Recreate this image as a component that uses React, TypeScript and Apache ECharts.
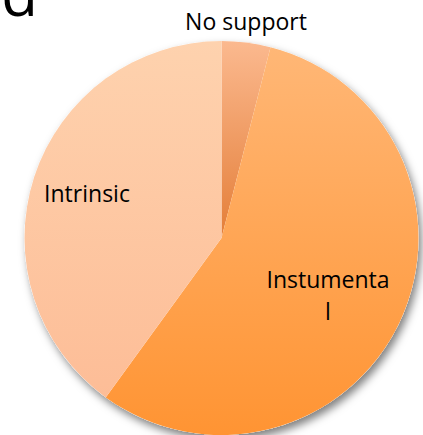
import React, { useEffect, useRef } from "react";
import * as echarts from "echarts";

const categories = ["No support", "Instumental", "Intrinsic"];
const values = [4, 56, 40];
const topColors = ["#FBB98F", "#FFB776", "#FED2AE"];
const bottomColors = ["#E47E38", "#FF9433", "#FDBD97"];
const labelPos = [
  { x: 246, y: 21 },
  { x: 328, y: 295 },
  { x: 87, y: 193 },
];

export default function App() {
  const ref = useRef<HTMLDivElement>(null);
  useEffect(() => {
    const chart = echarts.init(ref.current!, null, { renderer: "svg" });
    const font = '"Open Sans", sans-serif';
    chart.setOption({
      animation: false,
      backgroundColor: "#ffffff",
      graphic: [
        {
          type: "text",
          x: 38,
          y: -37,
          style: {
            text: "d",
            font: `60px ${font}`,
            fill: "#000000",
            align: "right",
          },
        },
      ],
      series: [
        {
          type: "pie",
          silent: true,
          center: [221.5, 238],
          radius: [0, 197],
          z: 1,
          label: { show: false },
          labelLine: { show: false },
          itemStyle: {
            color: "#ffffff",
            shadowBlur: 9,
            shadowOffsetX: 3,
            shadowOffsetY: 5,
            shadowColor: "rgba(0,0,0,0.5)",
          },
          data: [{ value: 1, name: "base" }],
        },
        {
          type: "pie",
          center: [221.5, 238],
          radius: [0, 197],
          startAngle: 90,
          clockwise: true,
          z: 2,
          itemStyle: { borderWidth: 0 },
          label: {
            show: true,
            position: "inside",
            formatter: (p: any) => p.name,
            fontFamily: font,
            fontSize: 23,
            color: "#000000",
            width: 128,
            overflow: "break",
            lineHeight: 32,
            align: "center",
          },
          labelLine: { show: false },
          labelLayout: (params: any) => ({
            x: labelPos[params.dataIndex].x,
            y: labelPos[params.dataIndex].y,
            align: "center",
            verticalAlign: "middle",
          }),
          data: categories.map((name, i) => ({
            name,
            value: values[i],
            itemStyle: {
              color: new echarts.graphic.LinearGradient(0, 0, 0, 1, [
                { offset: 0, color: topColors[i] },
                { offset: 1, color: bottomColors[i] },
              ]),
            },
          })),
        },
      ],
    });
    return () => chart.dispose();
  }, []);
  return (
    <div
      ref={ref}
      style={{ position: "fixed", left: 0, top: 0, width: 423, height: 435 }}
    />
  );
}
